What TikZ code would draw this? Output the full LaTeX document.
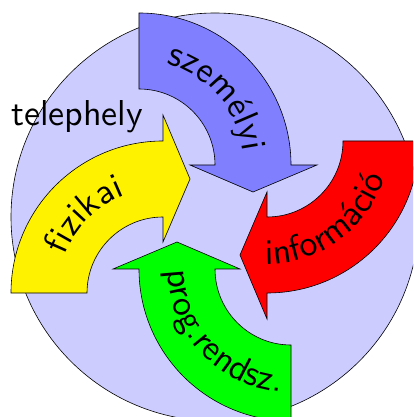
\documentclass[tikz,border=0pt]{standalone}
\usetikzlibrary{decorations.text}
\font\pwfont="[lmsans10-regular.otf]" at 36pt
\tikzset{
  pin arrow/.pic={
    \path[pic actions] (90:152) arc[start angle=90,end angle=0,radius=152]
      -- (178,0) -- (114,-27) -- (51,0) -- (76,0)
      arc[start angle=0,end angle=90,radius=76] -- cycle;
  },
  arrowline/.style={draw=black, line width=0.6pt, line join=miter},
}
\begin{document}
\begin{tikzpicture}[x=1pt,y=1pt]
\useasboundingbox (-215,-200) rectangle (198,217);
\clip (-215,-200) rectangle (198,217);
% background circle
\filldraw[fill=blue!20, draw=black, line width=0.6pt] (0,0) circle[radius=204];
% arrows
\pic[fill=blue!50, arrowline] at (-76,52) {pin arrow};
\pic[rotate=-90, fill=red, arrowline] at (52,76) {pin arrow};
\pic[rotate=-180, fill=green, arrowline] at (76,-52) {pin arrow};
\pic[rotate=90, fill=yellow, arrowline] at (-52,-76) {pin arrow};
% texts along the arrows
\path[shift={(-76,52)}, decorate, decoration={text along path, text align=center, text={|\pwfont|személyi}}]
  (101:105) arc[start angle=101, end angle=-19, radius=105];
\path[shift={(52,76)}, decorate, decoration={text along path, text align=center, text={|\pwfont|információ}}]
  (246:123) arc[start angle=246, end angle=366, radius=123];
\path[shift={(76,-52)}, decorate, decoration={text along path, text align=center, text={|\pwfont|prog.rendsz.}}]
  (163:123) arc[start angle=163, end angle=283, radius=123];
\path[shift={(-52,-76)}, decorate, decoration={text along path, text align=center, text={|\pwfont|fizikai}}]
  (195:105) arc[start angle=195, end angle=75, radius=105];
% label
\node[anchor=base west, inner sep=0pt, font=\pwfont] (tele) at (-204,91) {telephely};
\end{tikzpicture}
\end{document}
